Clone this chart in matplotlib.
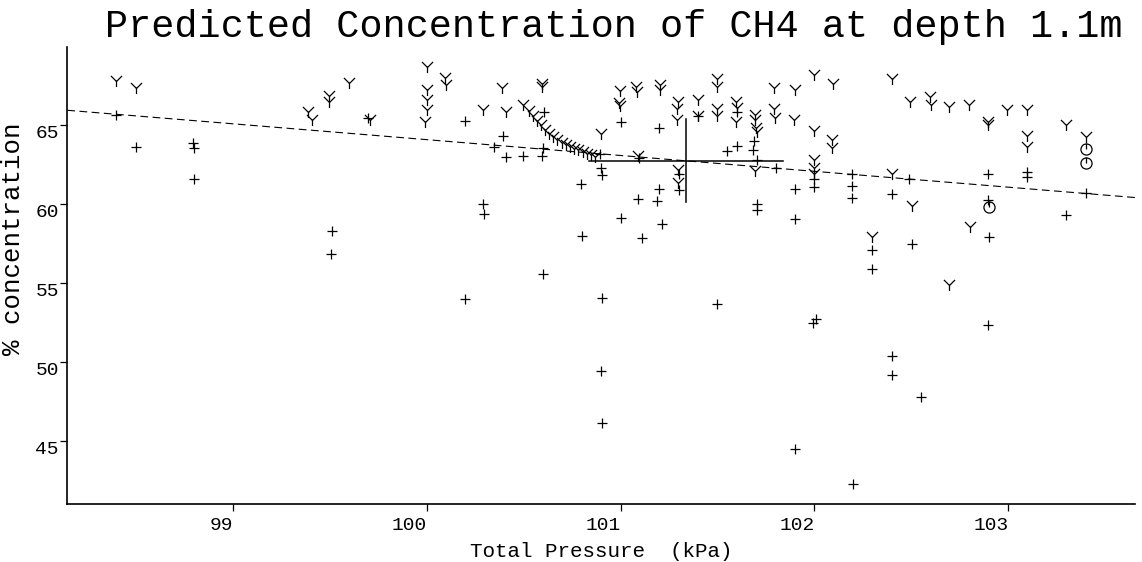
import matplotlib
matplotlib.use('Agg')
import matplotlib.pyplot as plt
from matplotlib.path import Path

plt.rcParams['font.family'] = ['Liberation Mono', 'DejaVu Sans Mono']

# measured CH4 concentrations against total pressure
plus_p = [98.398, 98.502, 98.797, 98.800, 98.802, 99.512, 99.505, 99.699,
          100.198, 100.396, 100.348, 100.408, 100.496, 100.605, 100.599, 100.594,
          100.894, 100.898, 100.903, 100.796, 100.292, 100.296, 101.001, 100.800,
          101.001, 101.092, 101.199, 101.401, 101.599, 101.689, 101.685, 101.703,
          101.548, 101.599, 101.802, 101.998, 101.998, 102.195, 102.195, 102.195,
          102.488, 102.399, 101.900, 101.900, 101.703, 101.703, 101.303, 101.303,
          101.199, 101.187, 101.213, 101.109, 102.296, 102.296, 102.502, 101.496,
          101.991, 102.006, 102.402, 102.402, 101.900, 102.201, 100.599, 100.198,
          100.903, 100.899, 100.903, 102.897, 103.095, 103.095, 103.401, 102.897,
          103.298, 102.902, 102.897, 102.549, 101.095]
plus_c = [65.63, 63.62, 63.88, 63.59, 61.58, 58.30, 56.87, 65.49,
          65.25, 64.30, 63.62, 62.99, 63.08, 65.84, 63.59, 63.04,
          63.16, 62.29, 61.83, 61.26, 60.04, 59.40, 59.15, 57.97,
          65.21, 60.35, 64.83, 65.57, 65.84, 63.99, 63.42, 62.78,
          63.35, 63.67, 62.26, 61.62, 61.09, 61.89, 61.15, 60.42,
          61.62, 60.63, 60.94, 59.09, 60.04, 59.66, 61.94, 60.88,
          60.99, 60.18, 58.73, 57.88, 57.12, 55.92, 57.50, 53.70,
          52.50, 52.72, 50.38, 49.20, 44.49, 42.25, 55.56, 54.02,
          54.06, 49.41, 46.13, 61.88, 62.04, 61.69, 60.71, 60.29,
          59.34, 57.92, 52.33, 47.78, 62.90]

# predicted concentrations
pred_p = [98.398, 98.502, 99.390, 99.411, 99.498, 99.498, 99.598, 99.708,
          100.000, 100.095, 100.100, 100.000, 100.000, 100.004, 99.993, 100.292,
          100.390, 100.408, 100.594, 100.594, 100.898, 100.998, 100.994, 100.998,
          101.080, 101.087, 101.204, 101.204, 101.496, 101.496, 101.298, 101.293,
          101.293, 101.401, 101.401, 101.496, 101.496, 101.596, 101.596, 101.599,
          101.693, 101.693, 101.698, 101.702, 101.693, 101.792, 101.900, 101.998,
          102.097, 101.792, 101.797, 101.895, 101.998, 102.092, 102.092, 102.399,
          102.493, 101.998, 101.998, 101.998, 102.399, 102.502, 101.298, 101.298,
          101.092, 102.296, 102.596, 102.601, 102.696, 102.799, 102.897, 102.897,
          102.992, 103.098, 103.298, 103.095, 103.095, 103.401, 102.802, 102.696]
pred_c = [67.81, 67.39, 65.84, 65.36, 66.86, 66.48, 67.68, 65.32,
          68.69, 68.02, 67.53, 67.22, 66.63, 65.95, 65.21, 65.99,
          67.33, 65.84, 67.64, 67.43, 64.43, 67.17, 66.38, 66.20,
          67.43, 67.11, 67.58, 67.22, 67.96, 67.43, 66.48, 66.06,
          65.32, 66.58, 65.57, 66.06, 65.57, 66.48, 65.21, 66.08,
          65.63, 65.32, 64.85, 64.58, 62.08, 67.33, 67.26, 68.17,
          67.64, 66.06, 65.46, 65.32, 64.64, 64.05, 63.59, 67.92,
          66.48, 62.83, 62.26, 61.89, 61.89, 59.89, 62.15, 61.31,
          63.04, 57.92, 66.76, 66.31, 66.16, 66.27, 65.21, 65.00,
          65.99, 65.99, 65.00, 64.32, 63.62, 64.26, 58.56, 54.86]

# flagged readings
flag_p = [103.401, 103.401, 102.902]
flag_c = [63.52, 62.61, 59.82]

# approach curve towards the fit
curve_p = [100.499, 100.530, 100.550, 100.571, 100.588, 100.611, 100.633, 100.653,
           100.674, 100.697, 100.719, 100.740, 100.760, 100.782, 100.805, 100.826,
           100.846, 100.868]
curve_c = [66.27, 65.91, 65.57, 65.27, 65.00, 64.73, 64.47, 64.26,
           64.05, 63.88, 63.75, 63.62, 63.52, 63.42, 63.31, 63.21,
           63.10, 62.99]

# least squares fit and mean with spread
fit_p = [98.147, 103.653]
fit_c = [65.95, 60.42]
mean_p, mean_c = 101.336, 62.75
spread_p, spread_c = 0.50, 2.62

yticks = [45, 50, 55, 60, 65]
xticks = [99, 100, 101, 102, 103]

# Y-shaped marker: stem down, two arms up at 45 degrees
y_marker = Path([(0, 0), (0, -1), (0, 0), (-1, 1), (0, 0), (1, 1)],
                [Path.MOVETO, Path.LINETO, Path.MOVETO, Path.LINETO,
                 Path.MOVETO, Path.LINETO])

# open circle with a short stroke from the top to the centre
stick_circle = Path.make_compound_path(
    Path.unit_circle(),
    Path([(0, 1), (0, 0)], [Path.MOVETO, Path.LINETO]))

fig = plt.figure(figsize=(11.42, 5.62), dpi=100)
ax = fig.add_axes([0.0589, 0.1032, 0.9350, 0.8132])

ax.plot(fit_p, fit_c, color='black', lw=0.8, dashes=(7, 4))
ax.plot([mean_p - spread_p, mean_p + spread_p], [mean_c, mean_c], color='black', lw=1.1)
ax.plot([mean_p, mean_p], [mean_c - spread_c, mean_c + spread_c], color='black', lw=1.1)

ax.plot(plus_p, plus_c, ls='none', marker='+', ms=7, mew=0.9, color='black')
ax.plot(pred_p, pred_c, ls='none', marker=y_marker, ms=8, mew=0.9,
        mfc='none', mec='black')
ax.plot(curve_p, curve_c, ls='none', marker=y_marker, ms=8, mew=0.9,
        mfc='none', mec='black')
ax.plot(flag_p, flag_c, ls='none', marker=stick_circle, ms=8, mew=0.9,
        mfc='none', mec='black')

ax.set_xlim(98.147, 103.653)
ax.set_ylim(41.0, 69.96)
for side in ['top', 'right']:
    ax.spines[side].set_visible(False)
for side in ['left', 'bottom']:
    ax.spines[side].set_linewidth(1.2)

ax.set_xticks(xticks)
ax.set_yticks(yticks)
ax.tick_params(axis='both', direction='out', length=5, width=0.9, labelsize=14, pad=1)
ax.tick_params(axis='x', pad=4)
for lab in ax.get_yticklabels():
    lab.set_verticalalignment('top')
for lab in ax.get_xticklabels():
    lab.set_horizontalalignment('right')

ax.set_xlabel('Total Pressure  (kPa)', fontsize=15, labelpad=6)
ax.set_ylabel('% concentration', fontsize=18.5)
ax.yaxis.set_label_coords(-0.0396, 0.58)

fig.text(0.537, 0.934, 'Predicted Concentration of CH4 at depth 1.1m',
         fontsize=27.7, ha='center', va='baseline')

fig.savefig('out.png', dpi=100)
